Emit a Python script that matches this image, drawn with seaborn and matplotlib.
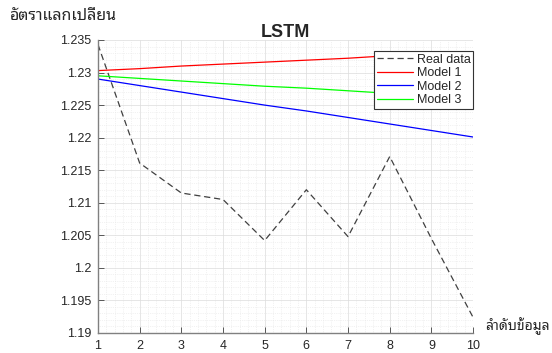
import seaborn as sns
import matplotlib.pyplot as plt
import pandas as pd
from matplotlib.ticker import MultipleLocator, AutoMinorLocator

# values
steps = [1, 2, 3, 4, 5, 6, 7, 8, 9, 10]
real_data = [1.2343, 1.2161, 1.2115, 1.2105, 1.2042, 1.2120, 1.2048, 1.2171, 1.2045, 1.1924]
model_1 = [1.2303, 1.2306, 1.2310, 1.2313, 1.2316, 1.2319, 1.2322, 1.2326, 1.2329, 1.2332]
model_2 = [1.2290, 1.2280, 1.2270, 1.2260, 1.2250, 1.2241, 1.2231, 1.2221, 1.2211, 1.2201]
model_3 = [1.2295, 1.2291, 1.2287, 1.2283, 1.2279, 1.2276, 1.2272, 1.2268, 1.2264, 1.2260]

series_names = ["Real data", "Model 1", "Model 2", "Model 3"]
series_colors = ["#404040", "#ff0000", "#0000ff", "#00ff00"]

if __name__ == "__main__":
    df = pd.DataFrame({"step": steps, "Real data": real_data, "Model 1": model_1,
                       "Model 2": model_2, "Model 3": model_3})
    long_df = df.melt(id_vars="step", var_name="series", value_name="rate")

    sns.set_style("white")
    plt.rcParams["font.family"] = ["Liberation Sans", "DejaVu Sans"]
    thai = ["Noto Sans Thai Looped", "Loma", "DejaVu Sans"]

    fig = plt.figure(figsize=(5.52, 3.53), dpi=100)
    ax = fig.add_axes([0.1775, 0.0567, 0.6795, 0.83])

    sns.lineplot(data=long_df, x="step", y="rate", hue="series", style="series",
                 hue_order=series_names, style_order=series_names,
                 palette=dict(zip(series_names, series_colors)),
                 dashes={"Real data": (5, 3), "Model 1": "", "Model 2": "", "Model 3": ""},
                 linewidth=0.9, ax=ax)

    ax.set_xlim(1, 10)
    ax.set_ylim(1.19, 1.235)
    ax.xaxis.set_major_locator(MultipleLocator(1))
    ax.yaxis.set_major_locator(MultipleLocator(0.005))
    ax.xaxis.set_minor_locator(AutoMinorLocator(5))
    ax.yaxis.set_minor_locator(AutoMinorLocator(5))
    ax.set_yticklabels([f"{v:g}" for v in ax.get_yticks()])

    ax.grid(which="major", color="#dcdcdc", linewidth=0.5)
    ax.grid(which="minor", color="#e6e6e6", linewidth=0.5, linestyle=":")
    ax.set_axisbelow(True)

    for s in ["top", "right"]:
        ax.spines[s].set_visible(False)
    for s in ["left", "bottom"]:
        ax.spines[s].set_color("#808080")
        ax.spines[s].set_linewidth(1.0)
    ax.tick_params(which="major", direction="in", length=4, width=0.6, color="#404040",
                   labelsize=9, labelcolor="#262626", left=True, bottom=True, pad=5)
    ax.tick_params(which="minor", length=0)

    ax.set_xlabel("")
    ax.set_ylabel("")
    ax.set_title("LSTM", fontsize=13, fontweight="bold", pad=2)
    fig.text(0.018, 0.942, "อัตราแลกเปลี่ยน", fontsize=11.5, family=thai, color="#262626")
    fig.text(0.878, 0.065, "ลำดับข้อมูล", fontsize=10, family=thai, color="#262626")

    leg = ax.legend(loc="upper right", bbox_to_anchor=(1.0, 0.962), fontsize=9,
                    fancybox=False, framealpha=1, edgecolor="#333333",
                    borderpad=0.2, labelspacing=0.12, handlelength=2.9,
                    handletextpad=0.3, borderaxespad=0.0)
    leg.get_frame().set_linewidth(0.8)

    plt.savefig("out.png", dpi=100)
